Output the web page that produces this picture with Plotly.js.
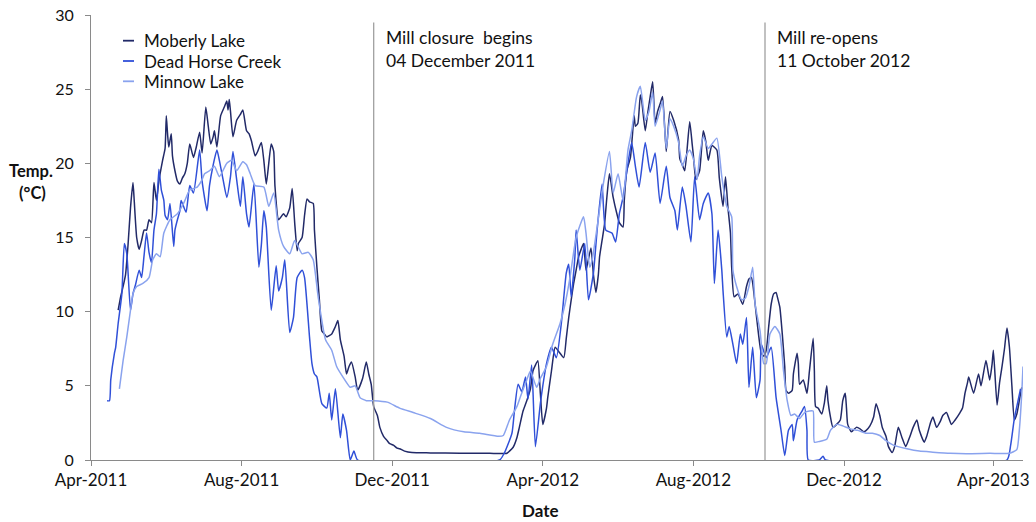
<!DOCTYPE html>
<html>
<head>
<meta charset="utf-8">
<script src="https://cdn.plot.ly/plotly-3.0.1.min.js"></script>
<style>html,body{margin:0;padding:0;background:#fff;}#chart{width:1036px;height:522px;}</style>
</head>
<body>
<div id="chart"></div>
<script>
// ---- DATA (days counted from 1 April 2011, temperatures in °C) ----
const seriesNames = ['Moberly Lake', 'Dead Horse Creek', 'Minnow Lake'];

const moberlyDay = [22,24,26,28,30,32,34,35,37,39,41,43,45,47,49,51,53,55,58,60,61,62,63,65,66,68,70,72,74,76,78,80,83,85,88,90,93,95,97,99,100,102,105,108,110,111,112,113,115,118,121,123,126,128,130,133,135,138,140,142,144,146,148,149,152,156,158,161,163,165,167,168,171,173,175,177,180,181,183,185,187,189,191,195,198,200,202,205,207,209,211,214,216,220,223,225,227,229,232,234,237,240,242,245,248,250,254,260,275,299,323,337,339,342,345,347,350,353,356,358,360,362,364,366,369,370,373,376,379,383,385,387,389,391,393,395,397,399,401,405,407,409,411,412,414,416,418,420,423,426,428,431,432,434,437,440,441,443,445,446,449,451,453,455,457,459,461,463,466,469,472,476,477,479,481,485,487,488,490,493,496,498,500,503,507,509,512,514,516,518,519,521,524,528,531,533,535,538,540,543,545,547,549,551,553,555,556,558,560,562,563,565,568,569,572,573,574,577,580,582,585,586,587,589,592,594,596,597,599,601,604,607,609,611,612,613,616,620,623,626,628,631,634,636,639,641,644,646,649,651,654,657,660,663,666,669,671,675,677,680,682,685,688,690,693,697,700,704,706,708,710,711,715,719,721,725,728,730,731,734,736,738,740,742,744,746,748,750,752,754];
const moberlyTemp = [10.1,11.0,11.7,12.5,14.5,17.0,18.7,17.5,15.0,14.2,14.8,15.5,15.5,16.2,16.0,18.7,17.5,18.8,20.2,21.0,23.2,22.0,21.1,22.0,20.5,19.5,18.8,18.6,19.0,19.3,20.0,21.3,20.4,21.0,22.1,20.7,23.8,22.5,21.3,21.8,22.2,21.1,23.2,23.8,24.2,23.6,24.3,23.5,21.8,22.9,23.3,23.6,22.2,22.0,21.5,20.5,20.8,21.4,20.2,18.6,20.0,21.3,20.8,18.5,16.2,16.6,16.4,17.0,18.3,16.0,14.1,14.6,15.0,16.5,17.6,17.4,17.3,15.5,13.0,10.8,8.7,8.5,8.3,8.5,9.0,9.4,8.1,7.0,5.8,6.3,6.6,5.6,4.7,5.5,6.6,5.8,5.1,3.6,3.0,2.2,1.6,1.3,1.1,1.0,0.8,0.76,0.6,0.5,0.48,0.45,0.45,0.46,0.6,0.86,1.5,2.2,3.3,4.0,4.8,6.0,6.4,6.7,4.5,2.4,3.5,4.2,6.0,7.6,7.3,6.9,8.2,9.6,10.8,11.9,12.8,13.7,14.2,14.6,12.8,14.3,12.5,11.3,12.5,13.7,14.8,15.9,17.8,19.3,17.7,16.6,16.0,15.7,17.5,19.5,20.4,23.2,22.5,22.7,24.6,24.3,22.2,23.4,24.5,25.5,22.7,23.5,24.0,24.5,20.8,23.5,22.9,21.6,20.3,19.9,19.5,22.8,21.3,20.5,18.9,19.5,22.2,21.5,20.2,21.2,20.9,19.0,17.1,19.1,17.0,15.3,13.0,11.0,11.2,10.5,11.7,12.2,12.3,10.5,9.0,7.2,7.0,7.4,9.0,10.5,11.2,11.3,11.0,10.3,8.5,6.3,4.7,4.5,4.7,5.8,7.2,6.5,5.1,5.4,4.5,6.0,8.2,6.0,3.6,3.5,3.1,3.8,5.0,4.0,2.9,2.2,2.4,2.7,4.0,4.5,3.5,2.4,1.9,2.2,2.1,1.9,2.0,2.3,2.9,3.8,3.0,2.2,1.6,0.9,0.5,0.9,2.2,1.5,0.9,1.5,2.2,2.7,2.0,1.2,1.6,2.5,2.9,2.2,2.6,3.0,3.2,2.4,2.7,3.2,3.5,4.5,5.2,5.6,4.5,5.8,5.0,6.7,5.4,6.5,7.4,3.7,5.2,6.3,7.5,8.9,7.6,5.0,2.7,3.1,4.0,4.9];

const deadHorseDay = [13,15,16,19,20,22,25,27,29,32,34,36,39,41,43,45,47,49,51,53,55,57,59,60,62,64,67,68,70,72,73,77,80,83,88,90,94,96,99,102,104,107,110,113,115,118,121,123,126,128,132,136,138,140,142,146,150,152,155,157,161,164,167,171,173,177,179,181,183,187,191,193,195,198,202,204,207,210,213,216,331,335,341,343,346,349,352,354,357,360,364,366,369,373,377,381,385,387,389,392,393,396,400,403,407,410,414,417,422,425,428,431,435,438,441,444,449,453,457,461,466,469,473,475,479,482,486,489,493,496,500,503,505,508,511,512,515,517,520,523,526,528,531,533,536,539,542,543,547,551,555,559,562,565,568,569,572,576,578,580,581,590,593,595,742,745,748,751,753];
const deadHorseTemp = [4.0,4.0,5.4,7.2,7.6,9.2,11.2,14.6,13.9,10.1,11.2,11.8,12.8,12.3,13.8,15.3,14.0,13.3,15.5,16.6,19.6,18.2,17.5,16.5,16.2,17.3,14.4,15.5,16.2,16.8,17.5,16.7,18.5,18.0,20.9,18.8,16.8,18.5,19.9,20.9,20.2,18.9,17.7,19.1,20.8,18.9,17.1,19.1,16.6,15.7,18.6,13.0,14.5,16.8,15.7,10.1,13.1,11.4,12.3,13.5,8.6,9.6,12.3,12.8,12.3,8.3,6.5,5.8,5.6,3.8,3.5,4.5,2.7,4.8,1.5,3.1,2.0,0,0.6,0,0,0.5,1.8,3.3,5.1,4.6,5.6,4.1,6.4,0.9,3.8,5.0,6.5,7.6,6.9,9.2,12.6,13.2,11.0,13.7,15.5,12.8,14.6,10.8,12.6,15.5,18.6,15.5,15.3,14.7,16.6,17.7,20.0,21.4,19.8,18.4,21.4,19.4,20.7,17.3,19.8,17.7,16.8,15.5,18.4,17.1,14.7,19.1,16.2,17.3,18.0,16.6,11.9,15.5,12.8,11.4,8.3,9.0,7.8,6.5,8.5,7.8,9.6,4.9,7.6,4.2,5.4,7.8,6.9,7.6,4.2,2.0,0.3,2.0,2.4,1.3,2.7,3.3,3.6,2.0,0,0,0.25,0,0,1.0,2.8,4.0,4.8];

const minnowDay = [23,26,29,32,34,37,42,47,50,53,56,59,64,70,75,80,86,90,92,96,100,104,110,114,118,123,126,129,133,140,144,148,152,156,161,165,171,176,180,184,190,195,199,204,210,214,218,223,229,240,250,261,275,288,302,315,330,334,339,345,348,353,356,361,364,369,374,380,384,388,393,399,401,404,406,410,415,420,423,427,431,435,438,442,445,449,452,455,457,461,463,466,469,472,476,479,482,485,488,491,493,496,500,503,507,511,515,519,520,523,527,530,533,536,538,542,545,547,550,554,558,561,564,567,570,574,578,582,585,586,590,596,599,604,609,615,621,628,633,639,644,650,661,671,682,696,709,728,744,750,752,754,755];
const minnowTemp = [4.8,6.7,8.3,10.1,11.2,11.7,11.9,12.3,13.5,13.9,13.7,15.3,16.2,16.6,17.3,18.2,18.4,18.9,19.3,19.5,19.8,19.1,20.0,20.2,19.5,20.1,19.9,19.3,18.5,18.4,17.1,18.0,15.5,14.4,13.9,14.8,13.9,14.0,13.5,11.0,8.1,7.4,6.3,5.6,4.9,5.0,4.2,4.0,4.0,3.9,3.5,3.2,2.8,2.2,1.9,1.8,1.6,1.65,2.7,3.6,4.3,5.4,6.0,4.9,5.5,6.3,7.8,9.2,10.5,12.3,15.0,16.4,15.3,13.0,13.5,15.7,18.6,20.8,18.0,19.3,17.5,20.9,22.2,24.5,25.2,22.9,23.5,24.8,22.5,23.6,24.2,21.0,23.0,22.5,21.4,19.8,20.5,20.9,20.3,18.9,20.5,21.8,21.0,21.3,21.7,19.1,17.1,16.4,12.8,11.7,10.8,10.9,11.7,13.0,10.5,8.7,6.5,6.5,8.5,9.0,8.5,6.0,4.0,3.0,3.1,2.8,3.2,3.3,3.3,1.2,1.25,1.4,2.0,2.4,2.3,2.1,2.0,1.8,1.8,1.65,1.3,1.0,0.76,0.6,0.53,0.45,0.42,0.45,0.46,0.7,2.0,4.5,6.3];

const tickDates = ['2011-04-01','2011-08-01','2011-12-01','2012-04-01','2012-08-01','2012-12-01','2013-04-01'];
const tickLabels = ['Apr-2011','Aug-2011','Dec-2011','Apr-2012','Aug-2012','Dec-2012','Apr-2013'];
const yTicks = [0,5,10,15,20,25,30];
const eventDates = ['2011-11-16','2012-09-28'];
const eventLine1 = ['Mill closure  begins','Mill re-opens'];
const eventLine2 = ['04 December 2011','11 October 2012'];

// ---- BUILD ----
const colors = ['#222a68','#3050d8','#8aa3ee'];
const base = Date.UTC(2011,3,1);
const toDate = d => new Date(base + d*86400000).toISOString().slice(0,10);
const days = [moberlyDay, deadHorseDay, minnowDay];
const temps = [moberlyTemp, deadHorseTemp, minnowTemp];

const traces = seriesNames.map((n,i)=>({
  type:'scatter', mode:'lines', name:n,
  x: days[i].map(toDate), y: temps[i],
  line:{color:colors[i], width:1.5, shape:'spline', smoothing:0.5},
  hoverinfo:'x+y+name'
}));

const W=1036,H=522, L=91, R=13, T=15, B=62;
const pw=W-L-R, ph=H-T-B;
const px = x => (x-L)/pw;
const py = y => (H-B-y)/ph;
const FONT = 'Lato, "Open Sans", "Liberation Sans", sans-serif';

const shapes = [];
const annotations = [];
eventDates.forEach((d,i)=>{
  shapes.push({type:'line', xref:'x', yref:'y', x0:d, x1:d, y0:0, y1:29.5, line:{color:'#a0a0a0', width:1.3}});
  annotations.push({xref:'x', yref:'paper', x:d, y:py(38), text:eventLine1[i], showarrow:false, xanchor:'left', yanchor:'middle', xshift:10, font:{size:17.5, color:'#111'}});
  annotations.push({xref:'x', yref:'paper', x:d, y:py(60), text:eventLine2[i], showarrow:false, xanchor:'left', yanchor:'middle', xshift:10, font:{size:17.5, color:'#111'}});
});
// legend
const legY=[40.7,61,81.3];
seriesNames.forEach((n,i)=>{
  shapes.push({type:'line', xref:'paper', yref:'paper', x0:px(123), x1:px(134), y0:py(legY[i]), y1:py(legY[i]), line:{color:colors[i], width:1.8}});
  annotations.push({xref:'paper', yref:'paper', x:px(142), y:py(legY[i]), text:n, showarrow:false, xanchor:'left', yanchor:'middle', font:{size:17, color:'#111'}});
});
// axis titles
annotations.push({xref:'paper', yref:'paper', x:px(31), y:py(171), text:'<b>Temp.</b>', showarrow:false, xanchor:'center', yanchor:'middle', font:{size:16.5, color:'#111'}});
annotations.push({xref:'paper', yref:'paper', x:px(32), y:py(193), text:'<b>(°C)</b>', showarrow:false, xanchor:'center', yanchor:'middle', font:{size:16.5, color:'#111'}});
annotations.push({xref:'paper', yref:'paper', x:px(540), y:py(510), text:'<b>Date</b>', showarrow:false, xanchor:'center', yanchor:'middle', font:{size:17, color:'#111'}});

const layout = {
  width:W, height:H,
  margin:{l:L, r:R, t:T, b:B, pad:0},
  paper_bgcolor:'#fff', plot_bgcolor:'#fff',
  font:{family:FONT, color:'#111'},
  showlegend:false,
  xaxis:{type:'date', range:['2011-04-01','2013-04-25'], tickmode:'array', tickvals:tickDates, ticktext:tickLabels,
    ticks:'outside', ticklen:5, tickcolor:'#8a8a8a', showline:true, linecolor:'#8a8a8a', linewidth:1,
    showgrid:false, zeroline:false, tickfont:{size:17, color:'#111'}, fixedrange:true},
  yaxis:{range:[0,30], tickmode:'array', tickvals:yTicks, ticks:'outside', ticklen:5, tickcolor:'#8a8a8a',
    showline:true, linecolor:'#8a8a8a', linewidth:1, showgrid:false, zeroline:false,
    tickfont:{size:16, color:'#111'}, ticklabelstandoff:8, fixedrange:true},
  shapes:shapes, annotations:annotations
};
Plotly.newPlot('chart', traces, layout, {displayModeBar:false, staticPlot:true});
</script>
</body>
</html>
